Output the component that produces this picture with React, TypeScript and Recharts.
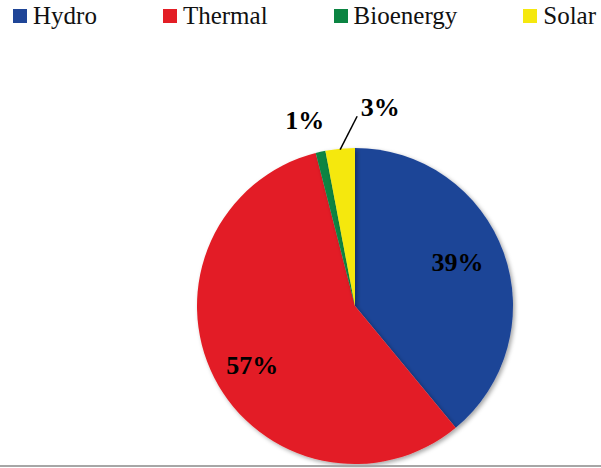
import { PieChart, Pie, Cell, Legend } from "recharts";

const sources = ["Hydro", "Thermal", "Bioenergy", "Solar"];
const shares = [39, 57, 1, 3];
const colors = ["#1f4597", "#e31e25", "#0b8442", "#f5e80e"];

const data = sources.map((name, i) => ({ name, value: shares[i] }));

const RADIAN = Math.PI / 180;
const FONT = '"Liberation Serif", "Times New Roman", Times, serif';

// where each label sits: radius factor plus a small nudge
const labelPlacement = [
  { r: 0.69, dx: 0, dy: -7 },
  { r: 0.73, dx: 0, dy: 7 },
  { r: 1.2, dx: -9, dy: 0 },
  { r: 1.2, dx: 43, dy: -10 },
];

function renderLabel(props: any) {
  const { cx, cy, midAngle, outerRadius, index, value } = props;
  const p = labelPlacement[index];
  const cos = Math.cos(-midAngle * RADIAN);
  const sin = Math.sin(-midAngle * RADIAN);
  const x = cx + outerRadius * p.r * cos + p.dx;
  const y = cy + outerRadius * p.r * sin + p.dy;
  const ex = cx + outerRadius * cos;
  const ey = cy + outerRadius * sin;
  return (
    <g key={`lbl-${index}`}>
      {index === 3 && (
        <line x1={ex} y1={ey + 1} x2={x - 23} y2={y + 9} stroke="#000" strokeWidth={1.5} />
      )}
      <text
        x={x}
        y={y}
        textAnchor="middle"
        dominantBaseline="central"
        style={{ fontFamily: FONT, fontWeight: 700, fontSize: 26 }}
        fill="#000"
      >
        {value}%
      </text>
    </g>
  );
}

function LegendRow() {
  return (
    <div
      style={{
        position: "absolute",
        top: 0,
        left: 13,
        display: "flex",
        gap: 66,
        fontFamily: FONT,
        fontSize: 25,
        lineHeight: "32px",
        color: "#111",
        whiteSpace: "nowrap",
      }}
    >
      {sources.map((s, i) => (
        <div key={s} style={{ display: "flex", alignItems: "center" }}>
          <span
            style={{
              width: 14,
              height: 14,
              background: colors[i],
              marginRight: 6,
              display: "inline-block",
            }}
          />
          <span>{s}</span>
        </div>
      ))}
    </div>
  );
}

export default function App() {
  return (
    <div
      style={{
        position: "fixed",
        top: 0,
        left: 0,
        width: 601,
        height: 468,
        background: "#fff",
        overflow: "hidden",
      }}
    >
      <PieChart width={601} height={468} margin={{ top: 0, right: 0, bottom: 0, left: 0 }}>
        <defs>
          <filter id="pieShadow" x="-10%" y="-10%" width="130%" height="130%">
            <feDropShadow dx="2" dy="2" stdDeviation="2" floodColor="#000" floodOpacity="0.35" />
          </filter>
        </defs>
        <Legend content={() => <LegendRow />} wrapperStyle={{ top: 0, left: 0 }} />
        <Pie
          data={data}
          dataKey="value"
          nameKey="name"
          cx={355}
          cy={306}
          outerRadius={158}
          startAngle={90}
          endAngle={-270}
          stroke="none"
          label={renderLabel}
          labelLine={false}
          isAnimationActive={false}
          style={{ filter: "url(#pieShadow)" }}
        >
          {data.map((d, i) => (
            <Cell key={d.name} fill={colors[i]} />
          ))}
        </Pie>
      </PieChart>
      <div
        style={{
          position: "absolute",
          left: 0,
          top: 465,
          width: 601,
          height: 2,
          background: "#a6a6a6",
        }}
      />
    </div>
  );
}
